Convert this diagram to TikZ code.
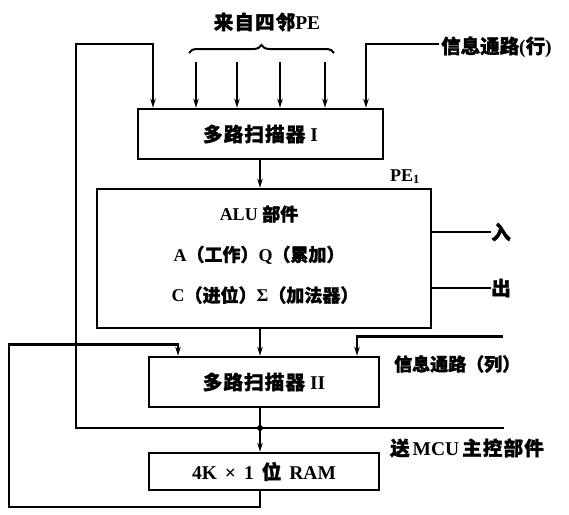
\documentclass[tikz,border=0pt]{standalone}
\usepackage{fontspec}
\setmainfont{Liberation Serif}
\newfontfamily\cjk[FakeBold=1.5]{Noto Sans CJK SC}
\newfontfamily\cjkw[FakeBold=1.5,LetterSpace=6]{Noto Sans CJK SC}
\newcommand\zh[1]{{\cjk #1}}
\newcommand\zhw[1]{{\cjkw #1}}
\usetikzlibrary{arrows.meta,decorations.pathreplacing}
\begin{document}
\begin{tikzpicture}[x=1pt,y=-1pt,
  font=\fontsize{18}{20}\selectfont\bfseries,
  big/.style={font=\fontsize{19.5}{22}\selectfont\bfseries},
  box/.style={draw, line width=2.6pt, inner sep=0pt},
  lbl/.style={inner sep=0pt},
  wire/.style={line width=2.1pt},
  arr/.style={wire, -{Stealth[length=9pt,width=5.5pt]}},
  bracedeco/.style={decorate, decoration={brace, amplitude=8pt}, line width=2pt},
  dot/.style={circle, fill, inner sep=0pt, minimum size=6pt}]
\useasboundingbox (0,0) rectangle (569,514);
% boxes
\node[box, big, minimum width=245pt, minimum height=50pt] (m1) at (260.5,134) {\zhw{多路扫描器}\hspace{5pt}I};
\node[box, minimum width=334pt, minimum height=139pt] (alu) at (264,258.5) {};
\node[lbl] (t1) at (259,214) {ALU \zh{部件}};
\node[lbl] (t2) at (259,255) {A\zh{（工作）}Q\zh{（累加）}};
\node[lbl] (t3) at (265,295) {C\zh{（进位）}Σ\zh{（加法器）}};
\node[box, big, minimum width=230pt, minimum height=50pt] (m2) at (264,382) {\zhw{多路扫描器}\hspace{5pt}II};
\node[box, big, minimum width=230pt, minimum height=37pt] (ram) at (264,471.5) {4K\hspace{8pt}×\hspace{8pt}1\hspace{8pt}\zh{位}\hspace{8pt}RAM};
% labels
\node[lbl, big] (top) at (267,22) {\zhw{来自四邻}PE};
\node[lbl, big, anchor=west] (row) at (441,47) {\zh{信息通路}(\zh{行})};
\node[lbl, anchor=south] (pe) at (405,184) {PE$_{\mathbf{1}}$};
\node[lbl, big] (rin) at (501,232) {\zh{入}};
\node[lbl, big] (rout) at (501,288) {\zh{出}};
\node[lbl, anchor=west] (col) at (394,364) {\zh{信息通路（列）}};
\node[lbl, big, anchor=west] (mcu) at (390,448) {\zh{送}\hspace{3pt}MCU\hspace{3pt}\zhw{主控部件}};
% coordinates
\coordinate (tl) at (76,44);
\coordinate (bl) at (76,428);
\coordinate (br) at (504,428);
\coordinate (xa) at (153,0);
\coordinate (xb) at (366,0);
\coordinate (xc) at (178,0);
\coordinate (xd) at (357,0);
\coordinate (xm) at (260,0);
\coordinate (rowend) at (439,44);
\coordinate (colend) at (503,336.5);
\coordinate (lb) at (9,507);
\coordinate (lt) at (9,344.5);
\coordinate (bra) at (189,53);
\coordinate (brb) at (334,53);
% brace and neighbour inputs
\draw[bracedeco] (bra) -- (brb);
\foreach \i/\x in {1/196,2/237,3/280,4/325}{
  \coordinate (n\i) at (\x,62);
  \draw[arr] (n\i) -- (n\i |- m1.north);
}
% connectors
\draw[arr] (br) -- (bl) -- (tl) -| (m1.north -| xa);
\draw[arr] (rowend) -| (m1.north -| xb);
\draw[arr] (m1.south -| xm) -- (alu.north -| xm);
\draw[arr] (alu.south -| xm) -- (m2.north -| xm);
\draw[arr] (m2.south -| xm) -- (ram.north -| xm);
\node[dot] (j) at (bl -| xm) {};
\draw[arr] (ram.south -| xm) |- (lb) -- (lt) -| (m2.north -| xc);
\draw[arr] (colend) -| (m2.north -| xd);
\draw[wire] (alu.east |- rin) -- (rin.west);
\draw[wire] (alu.east |- rout) -- (rout.west);
\end{tikzpicture}
\end{document}
